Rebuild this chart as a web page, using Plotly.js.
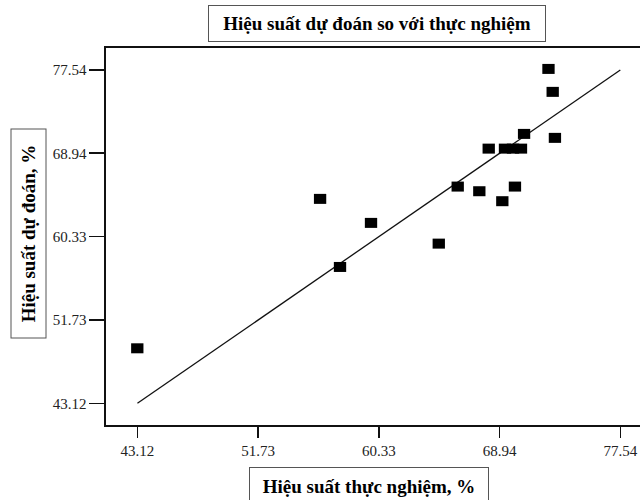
<!DOCTYPE html>
<html>
<head>
<meta charset="utf-8">
<script src="https://cdn.plot.ly/plotly-3.0.1.min.js"></script>
<style>
html,body{margin:0;padding:0;width:640px;height:500px;overflow:hidden;background:#fff;}
#chart{width:650px;height:500px;}
</style>
</head>
<body>
<div id="chart"></div>
<script>
// Data
const actual = [43.11, 56.14, 59.77, 57.56, 64.60, 65.95, 67.49, 69.13, 70.03, 68.16, 69.32, 69.89, 70.46, 70.68, 72.88, 72.42, 72.72];
const predicted = [48.80, 64.23, 61.75, 57.20, 59.61, 65.50, 65.02, 63.99, 65.50, 69.42, 69.42, 69.42, 69.42, 70.94, 70.53, 77.65, 75.28];
const fitX = [43.12, 77.54];
const fitY = [43.12, 77.54];
const tickVals = [43.12, 51.73, 60.33, 68.94, 77.54];
const tickText = ["43.12", "51.73", "60.33", "68.94", "77.54"];

const titleText = "Hiệu suất dự đoán so với thực nghiệm";
const xTitleText = "Hiệu suất thực nghiệm, %";
const yTitleText = "Hiệu suất dự đoán, %";

// layout geometry (pixels)
const W = 650, H = 500, L = 106, T = 48, R = 5, B = 75;
const pw = W - L - R, ph = H - T - B;
const px = x => (x - L) / pw;
const py = y => 1 - (y - T) / ph;

const serif = "Liberation Serif, Times New Roman, serif";

const traces = [
  {
    x: fitX, y: fitY, type: "scatter", mode: "lines",
    line: {color: "#111", width: 1.3}, hoverinfo: "skip", showlegend: false
  },
  {
    x: actual, y: predicted, type: "scatter", mode: "markers",
    marker: {symbol: "line-ew", size: 8.8, color: "#000", line: {color: "#000", width: 10}},
    showlegend: false
  }
];

const layout = {
  width: W, height: H,
  margin: {l: L, r: R, t: T, b: B, pad: 0},
  paper_bgcolor: "#fff", plot_bgcolor: "#fff",
  showlegend: false,
  font: {family: serif, size: 15, color: "#222"},
  xaxis: {
    range: [40.88, 79.30], tickvals: tickVals, ticktext: tickText,
    showgrid: false, zeroline: false, showline: true, mirror: true,
    linecolor: "#111", linewidth: 1.6,
    ticks: "outside", ticklen: 11, tickwidth: 1.6, tickcolor: "#111",
    tickfont: {family: serif, size: 15, color: "#222"}
  },
  yaxis: {
    range: [40.88, 79.81], tickvals: tickVals, ticktext: tickText,
    showgrid: false, zeroline: false, showline: true, mirror: true,
    linecolor: "#111", linewidth: 1.6,
    ticks: "outside", ticklen: 15, tickwidth: 1.6, tickcolor: "#111",
    tickfont: {family: serif, size: 15, color: "#222"}
  },
  annotations: [
    {
      text: "<b>" + titleText + "</b>", xref: "paper", yref: "paper",
      x: px(376.5), y: py(24), xanchor: "center", yanchor: "middle",
      showarrow: false, width: 334, height: 33, borderpad: 1,
      bordercolor: "#555", borderwidth: 1, bgcolor: "#fff",
      font: {family: serif, size: 19, color: "#000"}
    },
    {
      text: "<b>" + xTitleText + "</b>", xref: "paper", yref: "paper",
      x: px(369), y: py(486), xanchor: "center", yanchor: "middle",
      showarrow: false, width: 236, height: 34, borderpad: 1,
      bordercolor: "#555", borderwidth: 1, bgcolor: "#fff",
      font: {family: serif, size: 19, color: "#000"}
    },
    {
      text: "<b>" + yTitleText + "</b>", xref: "paper", yref: "paper",
      x: px(28.5), y: py(234), xanchor: "center", yanchor: "middle",
      textangle: -90,
      showarrow: false, width: 206, height: 32, borderpad: 1,
      bordercolor: "#555", borderwidth: 1, bgcolor: "#fff",
      font: {family: serif, size: 19, color: "#000"}
    }
  ]
};

Plotly.newPlot("chart", traces, layout, {displayModeBar: false, staticPlot: true});
</script>
</body>
</html>
